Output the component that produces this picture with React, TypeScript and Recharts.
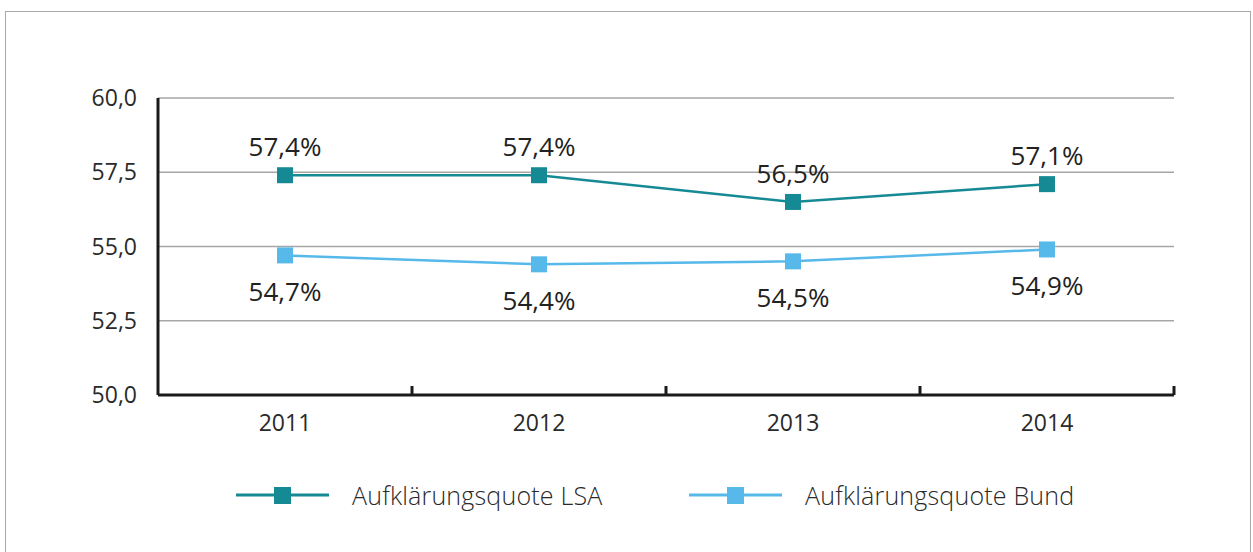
import React from 'react';
import { LineChart, Line, XAxis, YAxis, CartesianGrid, LabelList, Legend } from 'recharts';

const years = ['2011', '2012', '2013', '2014'];
const lsa = [57.4, 57.4, 56.5, 57.1];
const bund = [54.7, 54.4, 54.5, 54.9];
const yTicks = [50, 52.5, 55, 57.5, 60];
const seriesNames = ['Aufklärungsquote LSA', 'Aufklärungsquote Bund'];
const colors = ['#168A94', '#56B9E9'];

const data = years.map((y, i) => ({ year: y, lsa: lsa[i], bund: bund[i] }));

const FONT = '"Open Sans", "Noto Sans", sans-serif';
const fmt = (v: number) => v.toFixed(1).replace('.', ',');
const pct = (v: any) => `${Number(v).toFixed(1).replace('.', ',')}%`;
const TICK_MARGIN = 20;

const Sq = (props: any) => {
  const { cx, cy, fill } = props;
  if (cx == null || cy == null) return null;
  return <rect x={cx - 8} y={cy - 8} width={16} height={16} fill={fill} />;
};

const XTick = (props: any) => {
  const { x, y, payload } = props;
  const half = payload?.offset ?? 0;
  const axisY = y - TICK_MARGIN;
  return (
    <g>
      <text x={x} y={y} dy="0.71em" textAnchor="middle" fontSize={23} fill="#2a2a2a" fontFamily={FONT}>{payload.value}</text>
      <line x1={x + half} y1={axisY - 9} x2={x + half} y2={axisY} stroke="#1a1a1a" strokeWidth={3} />
    </g>
  );
};

const LegendContent = () => (
  <div style={{ position: 'relative', width: 1253, height: 40, fontFamily: FONT }}>
    {seriesNames.map((n, i) => {
      const left = i === 0 ? 236 : 689;
      return (
        <div key={n} style={{ position: 'absolute', left, top: 0, height: 40 }}>
          <svg width={94} height={40} style={{ position: 'absolute', left: 0, top: 0 }}>
            <line x1={0} y1={17} x2={93} y2={17} stroke={colors[i]} strokeWidth={3} />
            <rect x={38} y={9} width={17} height={17} fill={colors[i]} />
          </svg>
          <span style={{ position: 'absolute', left: 116, top: 0, whiteSpace: 'nowrap', fontSize: 25, color: '#2a2a2a', fontWeight: 300, letterSpacing: 0.2 }}>{n}</span>
        </div>
      );
    })}
  </div>
);

export default function App() {
  return (
    <div style={{ position: 'absolute', left: 0, top: 0, width: 1253, height: 552, background: '#fff' }}>
      <div style={{ position: 'absolute', left: 5, top: 11, width: 1246, height: 560, border: '1px solid #a8a8a8', boxSizing: 'border-box' }} />
      <div style={{ position: 'absolute', left: 0, top: 0 }}>
        <LineChart width={1253} height={552} data={data} margin={{ top: 98, right: 79, bottom: 127, left: 58 }}>
          <CartesianGrid vertical={false} stroke="#a6a6a6" strokeWidth={1.5} />
          <XAxis dataKey="year" scale="band" height={30} axisLine={{ stroke: '#1a1a1a', strokeWidth: 3 }} tickLine={false} tickSize={0}
            tick={<XTick />} tickMargin={TICK_MARGIN} interval={0} />
          <YAxis domain={[50, 60]} ticks={yTicks} width={100} tickFormatter={fmt} axisLine={{ stroke: '#1a1a1a', strokeWidth: 3 }}
            tickLine={false} tick={{ fontSize: 23, fill: '#2a2a2a', fontFamily: FONT }} tickMargin={15} interval={0} />
          <Legend verticalAlign="middle" align="center" content={<LegendContent />} wrapperStyle={{ top: 478, left: 0, width: 1253 }} />
          <Line dataKey="lsa" name={seriesNames[0]} stroke={colors[0]} strokeWidth={2.5} isAnimationActive={false}
            dot={<Sq fill={colors[0]} />} activeDot={false}>
            <LabelList dataKey="lsa" position="top" offset={19} formatter={pct}
              style={{ fontSize: 26, fill: '#222', fontFamily: FONT, fontWeight: 500 }} />
          </Line>
          <Line dataKey="bund" name={seriesNames[1]} stroke={colors[1]} strokeWidth={2.5} isAnimationActive={false}
            dot={<Sq fill={colors[1]} />} activeDot={false}>
            <LabelList dataKey="bund" position="bottom" offset={27} formatter={pct}
              style={{ fontSize: 26, fill: '#222', fontFamily: FONT, fontWeight: 500 }} />
          </Line>
        </LineChart>
      </div>
    </div>
  );
}
